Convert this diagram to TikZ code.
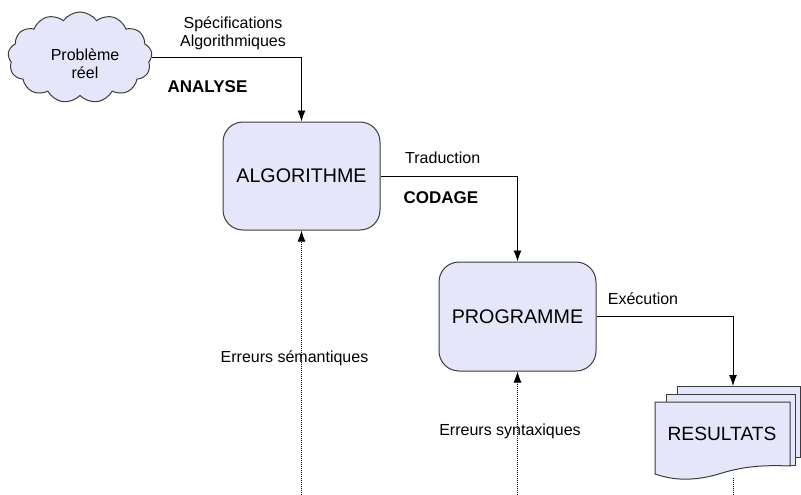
\documentclass[tikz,border=0pt]{standalone}
\usepackage{fontspec}
\setmainfont{Liberation Sans}
\usetikzlibrary{shapes.symbols,arrows.meta}
\definecolor{boxfill}{RGB}{230,230,250}
\definecolor{boxline}{RGB}{60,60,60}
\begin{document}
\begin{tikzpicture}[x=1pt,y=-1pt,
  boxnode/.style={draw=boxline,fill=boxfill,line width=1pt,rounded corners=20pt,
    minimum width=157pt,minimum height=108pt,inner sep=0pt,
    font=\fontsize{19.7}{22}\selectfont},
  lbl/.style={inner sep=0pt,align=center,font=\fontsize{16}{18.5}\selectfont},
  blbl/.style={inner sep=0pt,font=\fontsize{17}{19}\selectfont\bfseries},
  conn/.style={line width=0.9pt,-{Latex[length=11pt,width=8pt]}},
  dconn/.style={line width=0.9pt,dash pattern=on 1pt off 1pt,-{Latex[length=11pt,width=8pt]}},
  sheet/.style={draw=boxline,fill=boxfill,line width=1pt}]
\useasboundingbox (0,0) rectangle (801,495);
% cloud
\node[cloud,cloud puffs=13,cloud puff arc=110,aspect=1.6,draw=boxline,fill=boxfill,line width=1pt,
  minimum width=144pt,minimum height=91pt,inner sep=0pt] (cloud) at (80,57.5) {};
\node[lbl,font=\fontsize{16}{18}\selectfont] (pb) at (85,64) {Problème\\réel};
% boxes
\node[boxnode] (algo) at (301.5,176) {ALGORITHME};
\node[boxnode,minimum height=109pt] (prog) at (517.5,316.5) {PROGRAMME};
% results stack
\path[sheet] (677,386) rectangle (800,457);
\path[sheet] (666,394) rectangle (795,465);
\path[sheet] (655,402) -- (790,402) -- (790,466)
  .. controls (765,465) and (745,466) .. (722,473)
  .. controls (700,480) and (678,482) .. (655,474) -- cycle;
\node[inner sep=0pt,font=\fontsize{19.2}{22}\selectfont] (res) at (722,434) {RESULTATS};
\coordinate (restop) at (733,386);
\coordinate (resbot) at (733,478);
\coordinate (resend) at (733,495);
% labels
\node[lbl] (spec) at (233,33.5) {Spécifications\\Algorithmiques};
\node[blbl] (ana) at (207.5,87) {ANALYSE};
\node[lbl] (trad) at (442.7,158) {Traduction};
\node[blbl] (cod) at (441,198) {CODAGE};
\node[lbl] (exe) at (643,299) {Exécution};
\node[lbl] (esem) at (294.5,358) {Erreurs sémantiques};
\node[lbl] (esyn) at (510,431) {Erreurs syntaxiques};
% connectors
\draw[conn] (cloud.east) -| (algo.north);
\draw[conn] (algo.east) -| (prog.north);
\draw[conn] (prog.east) -| (restop);
\coordinate (e1) at (301.5,495);
\coordinate (e2) at (517.5,495);
\draw[dconn] (e1) -- (algo.south);
\draw[dconn] (e2) -- (prog.south);
\draw[line width=0.9pt,dash pattern=on 1pt off 1pt] (resbot) -- (resend);
\end{tikzpicture}
\end{document}
